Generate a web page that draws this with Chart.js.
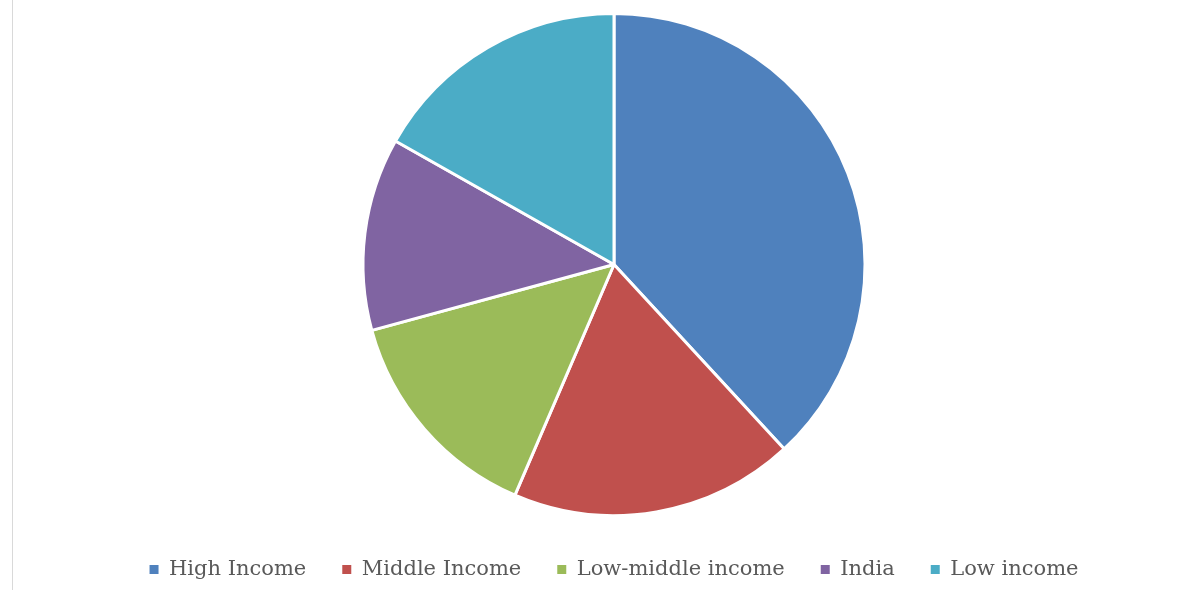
<!DOCTYPE html>
<html>
<head>
<meta charset="utf-8">
<script src="https://cdn.jsdelivr.net/npm/chart.js@4"></script>
<style>
  html, body { margin: 0; padding: 0; background: #fff; }
  #wrap { position: relative; width: 1198px; height: 590px; }
  #edge { position: absolute; left: 12px; top: 0; width: 1px; height: 590px; background: #d9d9d9; }
</style>
</head>
<body>
<div id="wrap">
  <div id="edge"></div>
  <canvas id="pieChart" width="1198" height="590"></canvas>
</div>
<script>
// --- Data ---
const labels = ["High Income", "Middle Income", "Low-middle income", "India", "Low income"];
const values = [38.1, 18.3, 14.3, 12.4, 16.8];
const colors = ["#4F81BD", "#C0504D", "#9BBB59", "#8064A2", "#4BACC6"];

// --- Chart ---
new Chart(document.getElementById("pieChart"), {
  type: "pie",
  data: {
    labels: labels,
    datasets: [
      {
        data: values,
        backgroundColor: colors,
        borderColor: "#ffffff",
        borderWidth: 3,
        radius: 251
      }
    ]
  },
  options: {
    responsive: false,
    animation: false,
    layout: { padding: { top: 6, bottom: 0, left: 30 } },
    plugins: {
      tooltip: { enabled: false },
      legend: {
        position: "bottom",
        labels: {
          boxWidth: 9,
          boxHeight: 9,
          padding: 36,
          color: "#595959",
          font: { family: "DejaVu Serif", size: 21 },
          generateLabels: chart => {
            const items = Chart.overrides.pie.plugins.legend.labels.generateLabels(chart);
            items.forEach(it => { it.lineWidth = 0; it.strokeStyle = it.fillStyle; });
            return items;
          }
        }
      }
    }
  }
});
</script>
</body>
</html>
